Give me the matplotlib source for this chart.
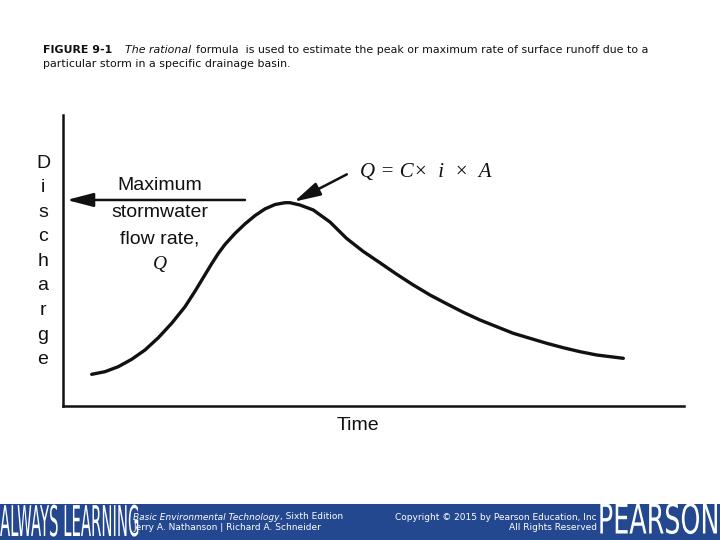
import matplotlib
matplotlib.use("Agg")
import matplotlib.pyplot as plt
from matplotlib.patches import Rectangle
from matplotlib.patheffects import AbstractPathEffect
from matplotlib.transforms import Affine2D

# ---- data ----
time = [4.62, 6.76, 8.90, 11.06, 13.20, 15.35, 17.50, 19.65, 21.26, 22.87,
        23.95, 25.01, 26.09, 27.70, 29.31, 30.92, 32.53, 34.14, 35.75, 36.55,
        38.16, 40.31, 42.99, 45.68, 48.36, 51.05, 53.74, 56.41, 59.10, 61.79,
        64.46, 67.15, 69.84, 72.51, 75.20, 77.89, 80.56, 83.25, 85.94, 90.23]
discharge = [10.89, 11.79, 13.51, 16.05, 19.24, 23.47, 28.42, 34.12, 39.45, 45.12,
             48.93, 52.44, 55.53, 59.31, 62.58, 65.43, 67.73, 69.24, 69.86, 69.86,
             69.07, 67.35, 63.23, 57.56, 53.09, 49.21, 45.26, 41.58, 38.14, 35.12,
             32.20, 29.55, 27.25, 24.98, 23.26, 21.55, 20.03, 18.66, 17.53, 16.39]
peak_time = 37.2
peak_q = 70.2
max_line_q = 70.8
max_line_start = 29.3
formula_arrow_tail = (45.7, 79.6)
ylabel_letters = list("Discharge")
xlabel = "Time"
flow_label = ["Maximum", "stormwater", "flow rate,"]

W, H = 720, 540
fig = plt.figure(figsize=(7.2, 5.4), dpi=100)
fig.patch.set_facecolor("white")
renderer = fig.canvas.get_renderer()


def fx(px):
    return px / W


def fy(py):
    return 1 - py / H


class YStretch(AbstractPathEffect):
    """Stretch text glyphs vertically about their baseline (display px)."""

    def __init__(self, sy, y0):
        super().__init__()
        self.sy = sy
        self.y0 = y0

    def draw_path(self, renderer, gc, tpath, affine, rgbFace=None):
        t = affine + Affine2D().translate(0, -self.y0).scale(1, self.sy).translate(0, self.y0)
        renderer.draw_path(gc, tpath, t, rgbFace)


ax = fig.add_axes([fx(63), fy(406), (684 - 63) / W, (406 - 115) / H])
ax.set_xlim(0, 100)
ax.set_ylim(0, 100)
for s in ["top", "right"]:
    ax.spines[s].set_visible(False)
for s in ["left", "bottom"]:
    ax.spines[s].set_linewidth(1.8)
    ax.spines[s].set_color("#111111")
ax.set_xticks([])
ax.set_yticks([])
ax.patch.set_alpha(0)

ax.plot(time, discharge, color="#111111", lw=2.4, solid_capstyle="round",
        solid_joinstyle="round")

arrow_style = "-|>,head_length=1.15,head_width=0.3"
ax.annotate("", xy=(0.6, max_line_q), xytext=(max_line_start, max_line_q),
            arrowprops=dict(arrowstyle=arrow_style, color="#111111", lw=1.8,
                            mutation_scale=14, shrinkA=0, shrinkB=0))
ax.annotate("", xy=(peak_time, peak_q), xytext=formula_arrow_tail,
            arrowprops=dict(arrowstyle=arrow_style, color="#111111", lw=1.8,
                            mutation_scale=14, shrinkA=0, shrinkB=0))

sans = ["Liberation Sans", "DejaVu Sans"]
serif = ["Liberation Serif", "DejaVu Serif"]
dv = ["DejaVu Sans"]

# formula
fig.text(fx(360), fy(173), "Q = C×  i  ×  A", family=serif, style="italic",
         fontsize=15, ha="left", va="center", color="#111111")

# flow label
for i, line in enumerate(flow_label):
    fig.text(fx(160), fy(186 + 26.3 * i), line, family=sans, fontsize=14,
             ha="center", va="center", color="#111111")
fig.text(fx(160), fy(265), "Q", family=serif, style="italic", fontsize=14,
         ha="center", va="center", color="#111111")

# vertical y label
for i, ch in enumerate(ylabel_letters):
    fig.text(fx(43), fy(163 + 24.6 * i), ch, family=sans, fontsize=14,
             ha="center", va="center", color="#111111")

fig.text(fx(358), fy(426), xlabel, family=sans, fontsize=14, ha="center",
         va="center", color="#111111")

# title
tfs = 7.9
fig.text(fx(43), fy(50), "FIGURE 9-1", family=dv, weight="bold", fontsize=tfs,
         ha="left", va="center", color="#111111")
fig.text(fx(125), fy(50), "The rational", family=dv, style="italic",
         fontsize=tfs, ha="left", va="center", color="#111111")
fig.text(fx(196), fy(50),
         "formula  is used to estimate the peak or maximum rate of surface runoff due to a",
         family=dv, fontsize=tfs, ha="left", va="center", color="#111111")
fig.text(fx(43), fy(64), "particular storm in a specific drainage basin.",
         family=dv, fontsize=tfs, ha="left", va="center", color="#111111")

# bottom banner
blue = "#24488f"
fig.add_artist(Rectangle((0, 0), 1, fy(504), transform=fig.transFigure,
                         facecolor=blue, edgecolor="none", zorder=0))
fig.text(fx(0), fy(536), "ALWAYS LEARNING", family=dv, fontsize=10.7,
         color="white", ha="left", va="baseline", zorder=3,
         path_effects=[YStretch(2.85, 4)])
bfs = 6.5
t1 = fig.text(fx(133), fy(517), "Basic Environmental Technology", family=dv,
              style="italic", fontsize=bfs, color="white", ha="left", va="center",
              zorder=3)
x_after = t1.get_window_extent(renderer).x1
fig.text(x_after / W, fy(517), ", Sixth Edition", family=dv,
         fontsize=bfs, color="white", ha="left", va="center", zorder=3)
fig.text(fx(133), fy(528), "Jerry A. Nathanson | Richard A. Schneider", family=dv,
         fontsize=bfs, color="white", ha="left", va="center", zorder=3)
fig.text(fx(597), fy(517), "Copyright © 2015 by Pearson Education, Inc", family=dv,
         fontsize=bfs, color="white", ha="right", va="center", zorder=3)
fig.text(fx(597), fy(528), "All Rights Reserved", family=dv,
         fontsize=bfs, color="white", ha="right", va="center", zorder=3)
fig.text(fx(719), fy(533.5), "PEARSON", family=dv, fontsize=18.3,
         color="white", ha="right", va="baseline", zorder=4,
         path_effects=[YStretch(1.62, 6.5)])

fig.savefig("out.png", dpi=100)
